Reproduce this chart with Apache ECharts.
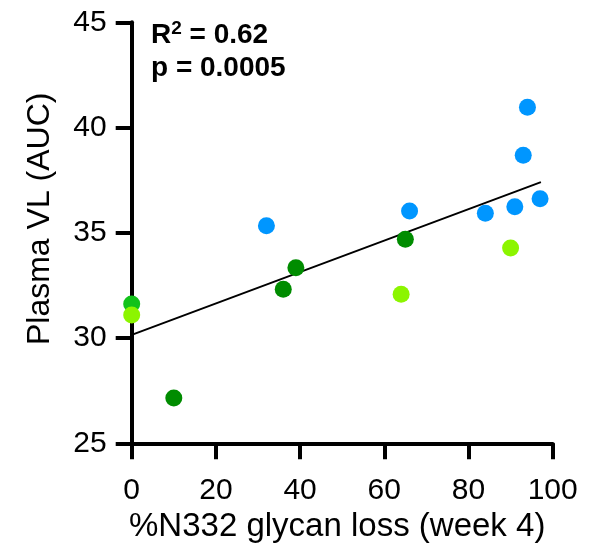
<!DOCTYPE html>
<html>
<head>
<meta charset="utf-8">
<script src="https://cdn.jsdelivr.net/npm/echarts@6/dist/echarts.min.js"></script>
<style>
html,body{margin:0;padding:0;background:#fff;}
#chart{width:610px;height:556px;}
</style>
</head>
<body>
<div id="chart"></div>
<script>
// Data
var blueX = [32, 66, 84, 91, 93, 94, 97];
var blueY = [35.34, 36.04, 35.93, 36.24, 38.68, 40.96, 36.62];
var darkGreenX = [10, 36, 39, 65];
var darkGreenY = [27.15, 32.32, 33.34, 34.69];
var midGreenX = [0];
var midGreenY = [31.62];
var limeX = [0, 64, 90];
var limeY = [31.1, 32.08, 34.28];
var fitX = [0, 97.2];
var fitY = [30.15, 37.41];
var xTicks = [0, 20, 40, 60, 80, 100];
var yTicks = [25, 30, 35, 40, 45];
var xLabel = '%N332 glycan loss (week 4)';
var yLabel = 'Plasma VL (AUC)';
var statR2 = '0.62';
var statP = '0.0005';

function pairs(xs, ys){ return xs.map(function(x,i){ return [x, ys[i]]; }); }

var FONT = "'Liberation Sans', Arial, Helvetica, sans-serif";
var chart = echarts.init(document.getElementById('chart'), null, {renderer:'canvas'});
var axisCommon = {
  axisLine: {show:true, onZero:false, lineStyle:{color:'#000', width:4}},
  axisTick: {show:true, inside:false, length:16, lineStyle:{color:'#000', width:4}},
  splitLine: {show:false},
  nameLocation: 'middle',
  axisLabel: {color:'#000', fontSize:30, fontFamily:FONT}
};
var option = {
  animation: false,
  backgroundColor: '#fff',
  grid: {left:131.7, right:57.3, top:22.3, bottom:112.7, containLabel:false},
  xAxis: Object.assign({}, axisCommon, {
    type:'value', min:xTicks[0], max:xTicks[xTicks.length-1], interval:20,
    name:xLabel, nameGap:64,
    nameTextStyle:{color:'#000', fontSize:33, fontFamily:FONT, padding:[0,10,0,0]},
    axisLabel: Object.assign({}, axisCommon.axisLabel, {margin:32})
  }),
  yAxis: Object.assign({}, axisCommon, {
    type:'value', min:yTicks[0], max:yTicks[yTicks.length-1], interval:5,
    name:yLabel, nameGap:76,
    nameTextStyle:{color:'#000', fontSize:32, fontFamily:FONT, padding:[0,0,0,28]},
    axisLabel: Object.assign({}, axisCommon.axisLabel, {margin:25})
  }),
  graphic: [{
    type:'text', left:151, top:19,
    style:{
      text:'{b|R}{s|2}{b| = ' + statR2 + '}\n{b|p = ' + statP + '}',
      rich:{
        b:{fontSize:28, fontWeight:'bold', fontFamily:FONT, fill:'#000', lineHeight:33},
        s:{fontSize:19, fontWeight:'bold', fontFamily:FONT, fill:'#000', verticalAlign:'top', lineHeight:33, padding:[0,0,12,0]}
      }
    }
  }],
  series: [
    {type:'line', data:pairs(fitX, fitY), symbol:'none', lineStyle:{color:'#000', width:2}, z:1, silent:true},
    {type:'scatter', data:pairs(blueX, blueY), symbolSize:17, itemStyle:{color:'#0096FF', opacity:1}, z:3},
    {type:'scatter', data:pairs(darkGreenX, darkGreenY), symbolSize:17, itemStyle:{color:'#008C00', opacity:1}, z:3},
    {type:'scatter', data:pairs(midGreenX, midGreenY), symbolSize:17, itemStyle:{color:'#12C21A', opacity:1}, z:3},
    {type:'scatter', data:pairs(limeX, limeY), symbolSize:17, itemStyle:{color:'#8CF500', opacity:1}, z:4}
  ]
};
chart.setOption(option);
</script>
</body>
</html>
